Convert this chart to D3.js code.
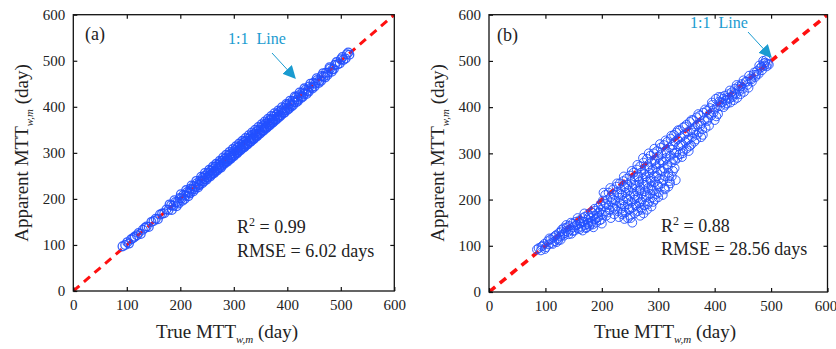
<!DOCTYPE html>
<html><head><meta charset="utf-8">
<script src="https://cdn.jsdelivr.net/npm/d3@7"></script>
<style>body{margin:0;background:#fff}svg{display:block}svg text{font-family:"Liberation Serif","Times New Roman",serif !important;fill:#222}</style>
</head><body><svg id="c" width="836" height="349"></svg>
<script>
const ticks = [0, 100, 200, 300, 400, 500, 600];
const tickLabels = ["0", "100", "200", "300", "400", "500", "600"];
const panelLabels = ["(a)", "(b)"];
const statsR2 = ["0.99", "0.88"];
const statsRMSE = ["6.02", "28.56"];

const trueA = [92,97,101,104,108,112,115,119,122,126,130,134,137,141,146,150,154,158,162,166,170,174,178,183,187,191,195,199,202,206,209,213,216,219,222,225,228,231,234,237,240,242,245,247,250,252,255,257,260,262,264,266,268,271,273,275,277,279,281,283,285,287,289,291,293,295,297,299,301,303,305,307,309,311,313,315,317,319,321,323,325,327,329,331,333,335,337,339,341,343,345,347,349,351,353,355,357,359,361,363,365,367,369,371,373,375,377,380,382,384,386,389,391,394,396,399,401,404,407,410,413,416,419,422,425,428,431,434,438,441,445,449,452,456,460,464,468,472,476,480,484,489,494,500,505,511,516,
180,184,189,193,197,201,204,208,211,215,218,221,224,227,230,233,236,239,241,244,246,249,251,254,256,259,261,263,265,267,269,272,274,276,278,280,282,284,286,288,290,292,294,296,298,300,302,304,306,308,310,312,314,316,318,320,322,324,326,328,330,332,334,336,338,340,342,344,346,348,350,352,354,356,358,360,362,364,366,368,370,372,374,376,378,381,383,385,388,390,393,395,398,400,403,405,408,411,414,417,420,423,426,429,432,436,440,443,447,451,455,459,463,467,471,475,479,483,487,492,498,503,509,514];
const apparentA = [97,100,106,103,112,115,118,121,126,124,133,137,140,139,150,152,157,156,166,168,169,177,176,186,185,193,193,202,201,209,207,215,214,222,220,228,226,234,231,240,238,246,243,251,247,256,252,261,257,266,261,270,265,274,270,279,274,283,278,287,282,290,286,295,290,298,294,303,298,306,302,311,305,314,310,318,314,323,318,326,321,331,326,334,330,339,333,342,338,347,341,350,346,355,349,358,354,363,357,366,362,371,365,374,370,379,373,383,379,388,382,392,388,397,393,403,398,407,404,413,410,420,416,425,422,431,428,437,435,444,442,452,450,458,457,467,466,474,474,483,481,491,492,503,502,514,513,
188,176,197,184,190,210,196,200,219,206,212,229,216,221,239,225,230,248,234,238,256,242,246,263,249,253,270,256,259,276,262,266,283,268,272,290,276,279,296,281,284,302,287,290,308,293,296,314,299,302,320,305,308,326,311,313,332,317,319,338,323,325,344,329,331,350,335,337,356,341,343,362,347,349,368,353,355,374,359,361,380,365,367,386,371,374,392,378,381,399,386,388,406,393,396,413,401,404,422,410,413,431,419,422,440,428,433,450,440,444,462,452,456,473,464,469,486,476,482,497,494,508,505,518];

const trueB = [85,88,92,95,98,101,104,106,109,111,114,116,119,121,124,126,128,130,127,120,
132,134,136,138,140,142,144,146,148,150,152,154,156,158,160,162,164,166,166,168,170,170,172,174,176,176,178,180,182,182,184,186,188,188,190,192,194,194,196,198,198,200,200,185,175,
202,204,206,206,208,210,212,212,214,216,216,218,220,220,222,222,224,226,226,228,228,230,230,232,232,234,234,236,236,238,238,240,240,240,242,242,244,244,246,246,246,248,248,250,250,250,252,252,254,254,256,256,254,258,258,258,260,260,262,262,
264,264,264,266,266,268,268,268,270,270,270,272,272,274,274,274,276,276,276,278,278,280,280,280,282,282,284,284,286,286,286,288,288,288,290,290,292,292,292,294,294,294,296,296,298,298,300,300,300,302,302,304,304,306,306,308,308,310,310,312,312,314,314,316,316,318,318,320,320,322,322,324,324,326,326,328,328,330,330,
332,332,334,334,336,338,338,340,342,342,344,344,346,348,350,350,352,354,354,356,358,358,360,362,362,364,366,368,368,370,372,374,376,376,378,380,382,384,386,388,390,392,394,396,398,400,402,404,406,
408,410,412,414,416,418,420,422,424,426,428,430,432,434,436,438,440,442,444,446,448,450,452,455,458,460,463,466,469,472,475,478,481,484,486,488,490,492,494,496,
93,99,107,113,117,123,129,133,137,141,145,149,153,157,161,165,169,173,177,181,187,191,195,199,
203,207,211,215,219,223,227,231,235,237,239,243,247,249,251,253,257,259,261,263,265,267,269,271,273,275,277,279,281,283,285,287,289,291,293,295,297,299,301,303,305,307,309,311,313,315,317,319,321,323,325,327,329,331,
335,339,343,347,351,355,359,363,367,371,375,379,383,387,391,395,399,403,407,411,415,419,423,427,431,435,439,443,447,451,457,461,465,470,474,479,483,487,491];
const apparentB = [92,95,90,100,104,97,110,103,114,106,118,110,123,115,128,120,131,124,113,108,
138,127,132,140,130,143,135,126,148,140,133,152,145,138,155,148,141,160,133,152,145,163,138,157,150,168,143,160,172,152,146,165,176,158,150,170,183,162,155,178,190,168,148,140,147,
198,185,210,175,165,200,188,215,178,205,160,194,222,182,210,168,198,228,186,175,215,204,162,235,192,222,180,210,168,240,198,228,185,158,215,172,245,203,232,190,160,220,178,252,208,165,238,195,225,182,258,212,150,242,200,170,230,188,265,218,
250,205,175,238,192,272,225,165,258,212,182,245,200,280,232,170,265,218,188,250,205,288,238,178,272,225,258,195,295,245,212,280,230,185,265,205,300,250,220,285,238,200,270,212,305,258,292,228,205,278,245,312,262,298,235,282,210,318,268,250,222,305,290,325,275,258,228,312,240,332,295,280,250,318,262,340,300,285,325,
345,302,330,290,315,350,298,335,320,292,356,305,340,325,362,310,346,330,305,368,350,318,335,372,345,325,358,378,340,362,345,382,365,335,352,388,372,355,392,375,360,398,382,405,388,372,418,400,385,
412,402,422,410,400,425,415,408,428,418,410,432,422,415,440,428,420,445,435,428,450,440,433,455,448,442,462,455,470,465,478,472,485,480,500,490,496,488,494,492,
98,93,116,104,121,112,135,122,145,125,150,132,144,160,136,152,170,140,162,148,180,160,172,157,
215,190,172,225,200,180,235,212,190,172,250,225,200,180,160,262,232,208,185,275,250,220,195,178,290,255,232,210,190,300,268,240,220,195,310,278,250,232,215,320,285,262,242,225,328,300,270,250,235,338,308,288,268,242,
350,318,300,358,330,315,372,350,330,385,360,340,395,370,385,410,395,380,422,410,418,405,420,436,425,430,448,440,445,458,455,468,460,475,470,490,487,495,502];

const svg = d3.select("#c");
const FONT = '"Liberation Serif", "Times New Roman", serif';
const panels = [
  {x0: 73.3, x1: 394.3, y0: 291, y1: 14.7, xs: trueA, ys: apparentA, sw: 1.3,
   yTitleX: 21, yTitleY: 153, xTitleX: 227, xTitleY: 338,
   lab: [85, 40], note: [228, 44], arrow: [[272, 53], [295, 78]], stat: [237, 233, 257], dashW: 3},
  {x0: 489, x1: 827.5, y0: 292, y1: 14.7, xs: trueB, ys: apparentB, sw: 1.0,
   yTitleX: 437, yTitleY: 153, xTitleX: 665, xTitleY: 338,
   lab: [497, 41], note: [690, 28], arrow: [[748, 32], [771, 57]], stat: [661, 232, 255], dashW: 3.6}
];

const defs = svg.append("defs");
defs.append("marker").attr("id", "ah").attr("viewBox", "0 0 10 10").attr("refX", 9).attr("refY", 5)
  .attr("markerWidth", 13).attr("markerHeight", 13).attr("markerUnits", "userSpaceOnUse")
  .attr("orient", "auto")
  .append("path").attr("d", "M0,0 L10,5 L0,10 z").attr("fill", "#1a9bd0");

panels.forEach((p, i) => {
  const x = d3.scaleLinear().domain([0, 600]).range([p.x0, p.x1]);
  const y = d3.scaleLinear().domain([0, 600]).range([p.y0, p.y1]);
  const g = svg.append("g");

  const clipId = "clip" + i;
  defs.append("clipPath").attr("id", clipId).append("rect")
    .attr("x", p.x0).attr("y", p.y1).attr("width", p.x1 - p.x0).attr("height", p.y0 - p.y1);

  g.append("line").attr("clip-path", `url(#${clipId})`)
    .attr("x1", x(0)).attr("y1", y(0)).attr("x2", x(600)).attr("y2", y(600))
    .attr("stroke", "#ff1010").attr("stroke-width", p.dashW).attr("stroke-dasharray", "8,6");

  g.append("g").selectAll("circle").data(p.xs.map((v, k) => [v, p.ys[k]])).join("circle")
    .attr("cx", d => x(d[0])).attr("cy", d => y(d[1])).attr("r", 4.4)
    .attr("fill", "none").attr("stroke", "#2250ff").attr("stroke-width", p.sw).attr("stroke-opacity", 0.9);

  const fmt = (d) => tickLabels[ticks.indexOf(d)];
  const axB = g.append("g").attr("transform", `translate(0,${p.y0})`)
    .call(d3.axisBottom(x).tickValues(ticks).tickFormat(fmt).tickSizeInner(-4).tickSizeOuter(0).tickPadding(8));
  const axL = g.append("g").attr("transform", `translate(${p.x0},0)`)
    .call(d3.axisLeft(y).tickValues(ticks).tickFormat(fmt).tickSizeInner(-4).tickSizeOuter(0).tickPadding(8));
  const axT = g.append("g").attr("transform", `translate(0,${p.y1})`)
    .call(d3.axisTop(x).tickValues(ticks.slice(1, -1)).tickFormat("").tickSizeInner(-4).tickSizeOuter(0));
  const axR = g.append("g").attr("transform", `translate(${p.x1},0)`)
    .call(d3.axisRight(y).tickValues(ticks.slice(1, -1)).tickFormat("").tickSizeInner(-4).tickSizeOuter(0));
  [axB, axL, axT, axR].forEach(a => {
    a.attr("font-family", FONT);
    a.select(".domain").remove();
    a.selectAll("line").attr("stroke", "#111").attr("stroke-width", 1.2);
    a.selectAll("text").attr("font-size", 15).attr("fill", "#222").style("font-family", FONT);
  });
  axB.selectAll("text").attr("dy", "0.71em");
  if (i === 1) axB.selectAll("text").filter(d => d === 600).attr("dx", -2);
  g.append("rect").attr("x", p.x0).attr("y", p.y1).attr("width", p.x1 - p.x0).attr("height", p.y0 - p.y1)
    .attr("fill", "none").attr("stroke", "#111").attr("stroke-width", 1.3);

  const xt = g.append("text").attr("x", p.xTitleX).attr("y", p.xTitleY).attr("text-anchor", "middle").attr("font-size", 19).style("font-family", FONT);
  xt.append("tspan").text("True MTT");
  xt.append("tspan").text("w,m").attr("font-size", 11).attr("font-style", "italic").attr("dy", 5);
  xt.append("tspan").text(" (day)").attr("dy", -5);

  const yt = g.append("text").attr("transform", `translate(${p.yTitleX + 7},${p.yTitleY}) rotate(-90)`)
    .attr("text-anchor", "middle").attr("font-size", 19).style("font-family", FONT);
  yt.append("tspan").text("Apparent MTT");
  yt.append("tspan").text("w,m").attr("font-size", 11).attr("font-style", "italic").attr("dy", 5);
  yt.append("tspan").text(" (day)").attr("dy", -5);

  g.append("text").attr("x", p.lab[0]).attr("y", p.lab[1]).attr("font-size", 18).style("font-family", FONT).text(panelLabels[i]);

  g.append("text").attr("x", p.note[0]).attr("y", p.note[1]).attr("font-size", 16).style("font-family", FONT)
    .style("fill", "#1a9bd0").text("1:1\u00a0\u00a0Line");
  g.append("line").attr("x1", p.arrow[0][0]).attr("y1", p.arrow[0][1]).attr("x2", p.arrow[1][0]).attr("y2", p.arrow[1][1])
    .attr("stroke", "#1a9bd0").attr("stroke-width", 1).attr("marker-end", "url(#ah)");

  const s1 = g.append("text").attr("x", p.stat[0]).attr("y", p.stat[1]).attr("font-size", 18).style("font-family", FONT);
  s1.append("tspan").text("R");
  s1.append("tspan").text("2").attr("font-size", 12).attr("dy", -7);
  s1.append("tspan").text(" = " + statsR2[i]).attr("dy", 7);
  g.append("text").attr("x", p.stat[0]).attr("y", p.stat[2]).attr("font-size", 18).style("font-family", FONT).text("RMSE = " + statsRMSE[i] + " days");
});
</script></body></html>
